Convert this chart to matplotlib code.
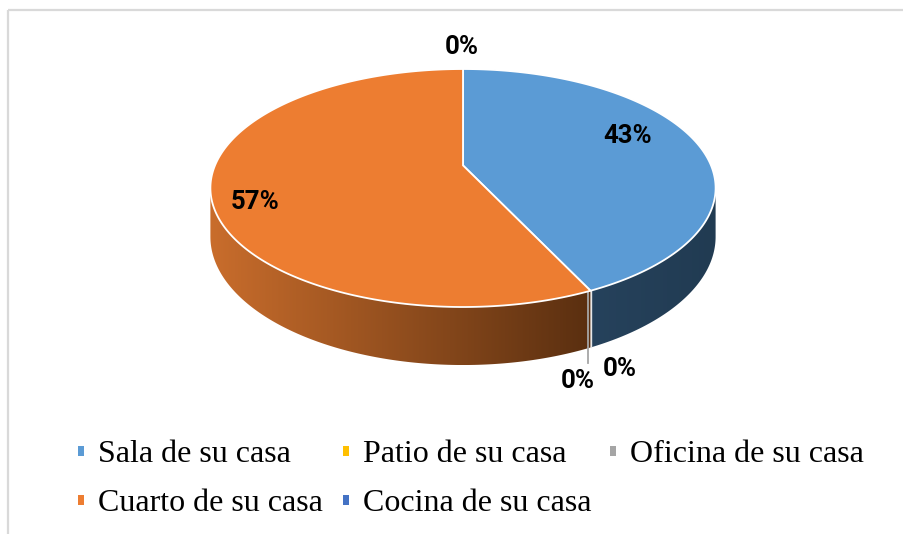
import numpy as np
import matplotlib.pyplot as plt
from matplotlib.patches import Polygon, Rectangle
from matplotlib.colors import LinearSegmentedColormap

# Data
labels = ['Sala de su casa', 'Patio de su casa', 'Oficina de su casa',
          'Cuarto de su casa', 'Cocina de su casa']
values = [43, 0, 0, 57, 0]

# Styles
top_colors = ['#5B9BD5', '#FFC000', '#A5A5A5', '#ED7D31', '#4472C4']
wall_colors = [('#26425C', '#213B52'), None, None, ('#C96D2C', '#5A2F10'), None]

# label positions (pixels) for each slice
label_xy = [(628, 136), (620, 369), (578, 381), (255, 202), (462, 47)]

# legend layout (pixels)
legend_xy = [(98, 462), (363, 462), (630, 462), (98, 511), (363, 511)]

# pie geometry in pixels, with a little perspective
cx, cy, rx, ry, k, depth = 463, 165.4, 248, 114.7, 0.19, 47


def proj(phi, r=1.0, drop=0.0):
    p = np.radians(phi)
    s = 1 / (1 + k * r * np.cos(p))
    x = cx + rx * r * np.sin(p) * s
    y = cy - ry * r * np.cos(p) * s + drop * s
    return x, y


fig = plt.figure(figsize=(9.04, 5.34), dpi=100)
ax = fig.add_axes([0, 0, 1, 1])

total = sum(values)
bounds = np.concatenate([[0], np.cumsum(values)]) / total * 360
phi_a = np.degrees(np.arccos(-k))
phi_b = 360 - phi_a

#walls
for i, v in enumerate(values):
    if v == 0 or wall_colors[i] is None:
        continue
    w0, w1 = max(bounds[i], phi_a), min(bounds[i + 1], phi_b)
    if w0 >= w1:
        continue
    ph = np.linspace(w0, w1, 150)
    tx, ty = proj(ph)
    bx, by = proj(ph[::-1], drop=depth)
    pts = np.column_stack([np.concatenate([tx, bx]), np.concatenate([ty, by])])
    poly = Polygon(pts, closed=True, facecolor='none', edgecolor='none', zorder=2)
    ax.add_patch(poly)
    c_left, c_right = wall_colors[i]
    cmap = LinearSegmentedColormap.from_list('w%d' % i, [c_left, c_right])
    grad = np.linspace(0, 1, 256).reshape(1, -1)
    im = ax.imshow(grad, cmap=cmap, aspect='auto', zorder=2,
                   extent=[pts[:, 0].min(), pts[:, 0].max(), pts[:, 1].max(), pts[:, 1].min()])
    im.set_clip_path(poly)

# seam + leader line at the 0% slices
b = bounds[1]
sx, sy = proj(b)
sbx, sby = proj(b, drop=depth)
ax.plot([sx, sbx], [sy, sby], color='#E8E8E8', lw=1, zorder=2.5)
ax.plot([sx - 3, sx - 3], [sy, 363], color='#A6A6A6', lw=1.3, zorder=2.6)

# top slices
for i, v in enumerate(values):
    if v == 0:
        continue
    ph = np.linspace(bounds[i], bounds[i + 1], 200)
    ax_, ay_ = proj(ph)
    pts = np.column_stack([np.concatenate([[cx], ax_]), np.concatenate([[cy], ay_])])
    ax.add_patch(Polygon(pts, closed=True, facecolor=top_colors[i],
                         edgecolor='white', lw=1.3, zorder=3))

# percentage labels
for i, v in enumerate(values):
    ax.text(label_xy[i][0], label_xy[i][1], '%d%%' % round(v / total * 100),
            ha='center', va='center', fontsize=18.5, fontweight='bold',
            family='Roboto', color='black', zorder=5)

# legend
for i, lab in enumerate(labels):
    x, y = legend_xy[i]
    ax.add_patch(Rectangle((x - 20, y - 16), 6, 10, facecolor=top_colors[i],
                           edgecolor='none', zorder=5))
    ax.text(x, y, lab, ha='left', va='baseline', fontsize=23,
            family='Liberation Serif', color='black')

# chart border
ax.add_patch(Rectangle((8.5, 9.5), 1200, 1200, fill=False,
                       edgecolor='#D9D9D9', lw=1.6, zorder=1))

ax.set_xlim(0, 904)
ax.set_ylim(534, 0)
ax.axis('off')

plt.savefig('out.png', dpi=100)
